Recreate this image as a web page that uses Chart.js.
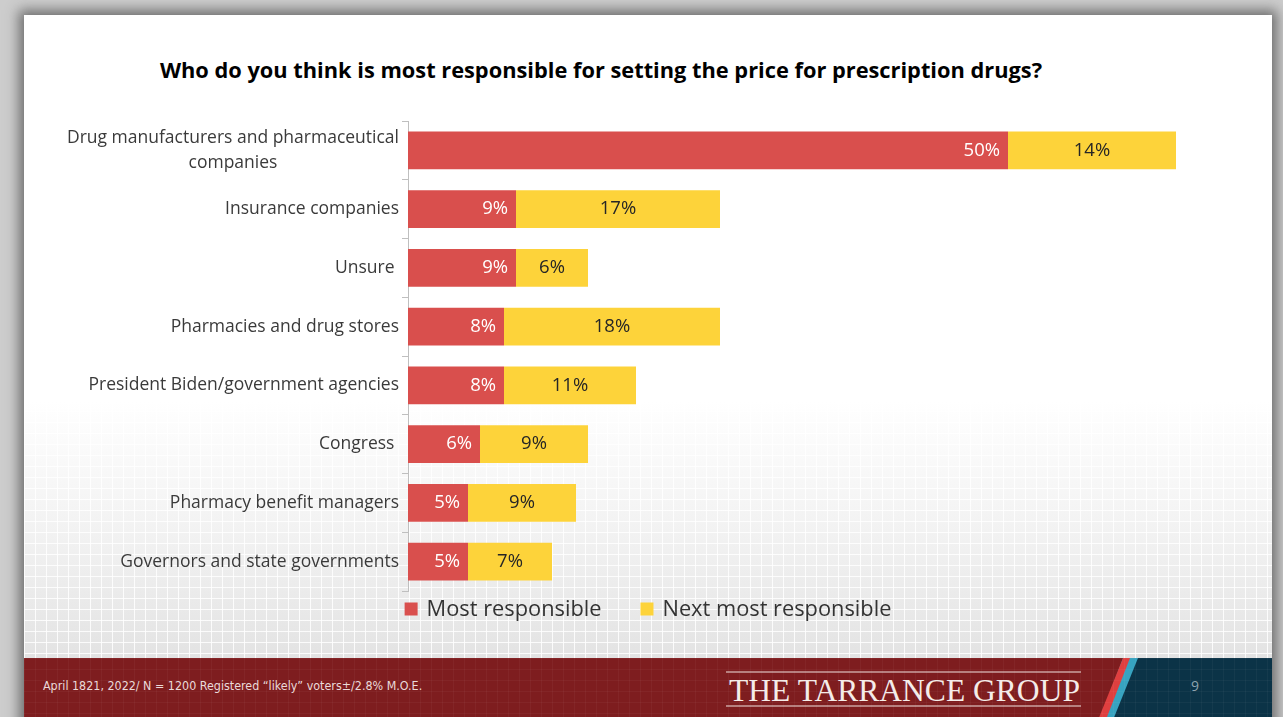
<!DOCTYPE html>
<html>
<head>
<meta charset="utf-8">
<script src="https://cdn.jsdelivr.net/npm/chart.js@4.4.1/dist/chart.umd.min.js"></script>
<style>
  html, body { margin: 0; padding: 0; }
  body {
    width: 1283px; height: 717px; overflow: hidden; position: relative;
    background: #cdcdcd; font-family: 'Open Sans', sans-serif;
  }
  #slide {
    position: absolute; left: 24px; top: 15px; width: 1248px; height: 720px;
    background: #fff; box-shadow: 0 0 12px 5px rgba(70, 70, 70, .7); overflow: hidden;
  }
  #pattern {
    position: absolute; left: 0; top: 0; width: 100%; height: 643px;
    background-image:
      linear-gradient(to right, rgba(255,255,255,.85) 1px, transparent 1px),
      linear-gradient(to bottom, rgba(255,255,255,.85) 1px, transparent 1px),
      linear-gradient(to bottom, #fff 0%, #fff 60%, #f1f1f1 82%, #e3e3e3 100%);
    background-size: 11px 11px, 11px 11px, 100% 100%;
  }
  #footer { position: absolute; left: 0; top: 643px; width: 1248px; height: 77px; }
  #title {
    position: absolute; left: 0; top: 55px; width: 1202px; text-align: center;
    font: bold 21.8px/30px 'Open Sans', sans-serif; color: #000;
  }
  #chartBox { position: absolute; left: 24px; top: 15px; width: 1248px; height: 643px; }
  #note {
    position: absolute; left: 43px; top: 678px;
    font: 12.4px 'Liberation Sans Narrow', 'DejaVu Sans Condensed', sans-serif; color: #eadada;
  }
  #page { position: absolute; left: 1191px; top: 676px; font: 14px 'Open Sans', sans-serif; color: #8fa3ae; }
</style>
</head>
<body>
<div id="slide">
  <div id="pattern"></div>
  <svg id="footer" width="1248" height="77">
    <defs>
      <pattern id="grid" width="11" height="11" patternUnits="userSpaceOnUse">
        <path d="M11 0 L0 0 0 11" fill="none" stroke="rgba(255,255,255,0.07)" stroke-width="1"/>
      </pattern>
    </defs>
    <rect x="0" y="0" width="1248" height="77" fill="#7e1d1f"/>
    <polygon points="1099,0 1248,0 1248,77 1070,77" fill="#0b3347"/>
    <polygon points="1099,0 1114,0 1083,77 1070,77" fill="#37a3c0"/>
    <polygon points="1099,0 1106,0 1076,77 1068,77" fill="#df3f3f"/>
    <rect x="0" y="0" width="1248" height="77" fill="url(#grid)"/>
    <line x1="702" y1="14" x2="1057" y2="14" stroke="#efe3e0" stroke-width="1.2"/>
    <line x1="702" y1="48" x2="1057" y2="48" stroke="#efe3e0" stroke-width="1.2"/>
    <text x="705" y="43" textLength="351" lengthAdjust="spacingAndGlyphs"
          font-family="Liberation Serif, serif" font-size="31" fill="#f4ece9">THE TARRANCE GROUP</text>
  </svg>
</div>
<div id="title">Who do you think is most responsible for setting the price for prescription drugs?</div>
<div id="chartBox"><canvas id="chart" width="1248" height="643"></canvas></div>
<div id="note">April 1821, 2022/ N = 1200 Registered “likely” voters±/2.8% M.O.E.</div>
<div id="page">9</div>

<script>
const categories = [
  ['Drug manufacturers and pharmaceutical', 'companies'],
  'Insurance companies',
  'Unsure ',
  'Pharmacies and drug stores',
  'President Biden/government agencies',
  'Congress ',
  'Pharmacy benefit managers',
  'Governors and state governments'
];
const mostResponsible = [50, 9, 9, 8, 8, 6, 5, 5];
const nextMostResponsible = [14, 17, 6, 18, 11, 9, 9, 7];
const seriesNames = ['Most responsible', 'Next most responsible'];

const RED = '#d94f4d';
const YELLOW = '#fdd33a';

// category labels: right aligned block, lines centered inside the block
const categoryLabels = {
  id: 'categoryLabels',
  afterDraw(chart) {
    const ctx = chart.ctx;
    const y = chart.scales.y;
    const right = chart.chartArea.left - 9;
    ctx.save();
    ctx.font = '17.5px "Open Sans", sans-serif';
    ctx.fillStyle = '#3a3a3a';
    ctx.textBaseline = 'middle';
    ctx.textAlign = 'center';
    categories.forEach((label, i) => {
      const lines = Array.isArray(label) ? label : [label];
      const w = Math.max(...lines.map(l => ctx.measureText(l).width));
      const cx = right - w / 2;
      const yc = y.getPixelForTick(i);
      const lh = 25;
      lines.forEach((l, k) => {
        ctx.fillText(l, cx, yc + (k - (lines.length - 1) / 2) * lh);
      });
    });
    ctx.restore();
  }
};

// value labels inside the bar segments
const valueLabels = {
  id: 'valueLabels',
  afterDatasetsDraw(chart) {
    const ctx = chart.ctx;
    ctx.save();
    ctx.font = '18.5px "Open Sans", sans-serif';
    ctx.textBaseline = 'middle';
    chart.data.datasets.forEach((ds, di) => {
      chart.getDatasetMeta(di).data.forEach((bar, i) => {
        const txt = ds.data[i] + '%';
        if (di === 0) {
          ctx.fillStyle = '#ffffff';
          ctx.textAlign = 'right';
          ctx.fillText(txt, bar.x - 8, bar.y);
        } else {
          ctx.fillStyle = '#262626';
          ctx.textAlign = 'center';
          ctx.fillText(txt, (bar.x + bar.base) / 2, bar.y);
        }
      });
    });
    ctx.restore();
  }
};

// legend under the plot
const bottomLegend = {
  id: 'bottomLegend',
  afterDraw(chart) {
    const ctx = chart.ctx;
    const box = 13, gapText = 9, gapItem = 39;
    ctx.save();
    ctx.font = '21.8px "Open Sans", sans-serif';
    ctx.textBaseline = 'middle';
    ctx.textAlign = 'left';
    const items = chart.data.datasets.map(ds => ({ text: ds.label, color: ds.backgroundColor }));
    const widths = items.map(it => box + gapText + ctx.measureText(it.text).width);
    const total = widths.reduce((a, b) => a + b, 0) + gapItem * (items.length - 1);
    let x = chart.width / 2 - total / 2;
    const yc = chart.chartArea.bottom + 18;
    items.forEach((it, i) => {
      ctx.fillStyle = it.color;
      ctx.fillRect(x, yc - box / 2, box, box);
      ctx.fillStyle = '#333333';
      ctx.fillText(it.text, x + box + gapText, yc + 1);
      x += widths[i] + gapItem;
    });
    ctx.restore();
  }
};

new Chart(document.getElementById('chart'), {
  type: 'bar',
  data: {
    labels: categories,
    datasets: [
      { label: seriesNames[0], data: mostResponsible, backgroundColor: RED },
      { label: seriesNames[1], data: nextMostResponsible, backgroundColor: YELLOW }
    ]
  },
  options: {
    responsive: false,
    animation: false,
    indexAxis: 'y',
    layout: { padding: { top: 106, bottom: 67, left: 0, right: 24 } },
    datasets: { bar: { barPercentage: 0.646, categoryPercentage: 1 } },
    plugins: { legend: { display: false }, tooltip: { enabled: false } },
    scales: {
      x: { stacked: true, min: 0, max: 70, display: false },
      y: {
        stacked: true,
        grid: { offset: true, drawOnChartArea: false, drawTicks: true, tickLength: 6, color: '#bfbfbf' },
        border: { display: true, color: '#bfbfbf' },
        ticks: { display: false },
        afterFit(scale) { scale.width = 384; }
      }
    }
  },
  plugins: [categoryLabels, valueLabels, bottomLegend]
});
</script>
</body>
</html>
